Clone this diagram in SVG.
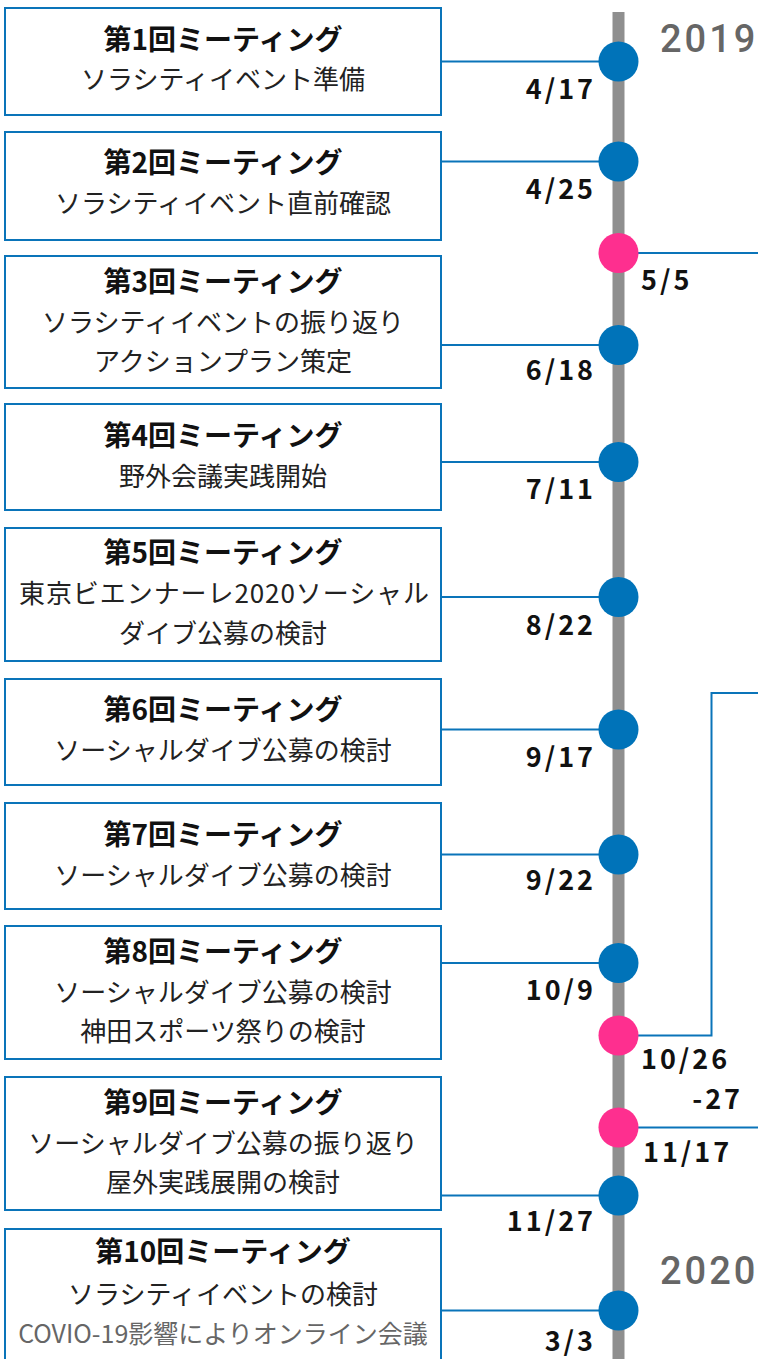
<svg xmlns="http://www.w3.org/2000/svg" width="758" height="1359" viewBox="0 0 758 1359">
<style>
.box{fill:#fff;stroke:#0a74b9;stroke-width:2}
.t{font-family:"Noto Sans CJK JP",sans-serif;font-weight:bold;font-size:28px;fill:#111;text-anchor:middle}
.s{font-family:"Noto Sans CJK JP",sans-serif;font-size:26px;fill:#222;text-anchor:middle}
.g{fill:#666;font-size:25px}
.d{font-family:"Noto Sans CJK JP",sans-serif;font-weight:bold;font-size:27px;fill:#111;letter-spacing:3px}
.l{text-anchor:end}
.y{font-family:Roboto,"Liberation Sans",sans-serif;font-weight:500;font-size:38px;fill:#666;letter-spacing:3px}
.c{stroke:#0a74b9;stroke-width:2;fill:none}
.b{fill:#0073b9}
.p{fill:#fe2f8f}
</style>
<rect id="timeline" x="612.5" y="12" width="12" height="1347" fill="#8f8f8f"/>
<text class="y" x="660" y="52">2019</text>
<text class="y" x="660" y="1284">2020</text>
<g id="connectors">
<path class="c" d="M441 61.5H600"/>
<path class="c" d="M441 161.5H600"/>
<path class="c" d="M630 253H758"/>
<path class="c" d="M441 345H600"/>
<path class="c" d="M441 462H600"/>
<path class="c" d="M441 597H600"/>
<path class="c" d="M441 729.5H600"/>
<path class="c" d="M441 854.5H600"/>
<path class="c" d="M441 963H600"/>
<path class="c" d="M630 1035.5H711.5V693H758"/>
<path class="c" d="M630 1127.5H758"/>
<path class="c" d="M441 1195.5H600"/>
<path class="c" d="M441 1310.5H600"/>
</g>
<g id="m1"><rect class="box" x="5" y="8" width="436" height="107"/><text class="t" x="223" y="50">第1回ミーティング</text><text class="s" x="223" y="89">ソラシティイベント準備</text></g>
<g id="m2"><rect class="box" x="5" y="132" width="436" height="108"/><text class="t" x="223" y="173">第2回ミーティング</text><text class="s" x="223" y="213">ソラシティイベント直前確認</text></g>
<g id="m3"><rect class="box" x="5" y="256" width="436" height="132"/><text class="t" x="223" y="292">第3回ミーティング</text><text class="s" x="223" y="332">ソラシティイベントの振り返り</text><text class="s" x="223" y="371">アクションプラン策定</text></g>
<g id="m4"><rect class="box" x="5" y="404" width="436" height="106"/><text class="t" x="223" y="446">第4回ミーティング</text><text class="s" x="223" y="486">野外会議実践開始</text></g>
<g id="m5"><rect class="box" x="5" y="528" width="436" height="133"/><text class="t" x="223" y="563">第5回ミーティング</text><text class="s" x="224" y="603" textLength="410" lengthAdjust="spacing">東京ビエンナーレ2020ソーシャル</text><text class="s" x="223" y="643">ダイブ公募の検討</text></g>
<g id="m6"><rect class="box" x="5" y="679" width="436" height="106"/><text class="t" x="223" y="720">第6回ミーティング</text><text class="s" x="223" y="760">ソーシャルダイブ公募の検討</text></g>
<g id="m7"><rect class="box" x="5" y="803" width="436" height="106"/><text class="t" x="223" y="845">第7回ミーティング</text><text class="s" x="223" y="885">ソーシャルダイブ公募の検討</text></g>
<g id="m8"><rect class="box" x="5" y="926" width="436" height="133"/><text class="t" x="223" y="962">第8回ミーティング</text><text class="s" x="223" y="1002">ソーシャルダイブ公募の検討</text><text class="s" x="223" y="1041">神田スポーツ祭りの検討</text></g>
<g id="m9"><rect class="box" x="5" y="1077" width="436" height="133"/><text class="t" x="223" y="1113">第9回ミーティング</text><text class="s" x="223" y="1153">ソーシャルダイブ公募の振り返り</text><text class="s" x="223" y="1192">屋外実践展開の検討</text></g>
<g id="m10"><rect class="box" x="5" y="1229" width="436" height="140"/><text class="t" x="223" y="1262">第10回ミーティング</text><text class="s" x="223" y="1304">ソラシティイベントの検討</text><text class="s g" x="223" y="1343">COVIO-19影響によりオンライン会議</text></g>
<g id="dots">
<circle class="b" cx="618.5" cy="61.5" r="20"/>
<circle class="b" cx="618.5" cy="161.5" r="20"/>
<circle class="p" cx="618.5" cy="253" r="20"/>
<circle class="b" cx="618.5" cy="345" r="20"/>
<circle class="b" cx="618.5" cy="462" r="20"/>
<circle class="b" cx="618.5" cy="597" r="20"/>
<circle class="b" cx="618.5" cy="729.5" r="20"/>
<circle class="b" cx="618.5" cy="854.5" r="20"/>
<circle class="b" cx="618.5" cy="963" r="20"/>
<circle class="p" cx="618.5" cy="1035.5" r="20"/>
<circle class="p" cx="618.5" cy="1127.5" r="20"/>
<circle class="b" cx="618.5" cy="1195.5" r="20"/>
<circle class="b" cx="618.5" cy="1310.5" r="20"/>
</g>
<g id="dates">
<text class="d l" x="596" y="99">4/17</text>
<text class="d l" x="596" y="199">4/25</text>
<text class="d" x="641" y="290">5/5</text>
<text class="d l" x="596" y="380">6/18</text>
<text class="d l" x="596" y="499">7/11</text>
<text class="d l" x="596" y="635">8/22</text>
<text class="d l" x="596" y="767">9/17</text>
<text class="d l" x="596" y="890">9/22</text>
<text class="d l" x="596" y="1000">10/9</text>
<text class="d" x="641" y="1069">10/26</text>
<text class="d l" x="743" y="1109">-27</text>
<text class="d" x="643" y="1162">11/17</text>
<text class="d l" x="596" y="1231">11/27</text>
<text class="d l" x="596" y="1351">3/3</text>
</g>
</svg>
